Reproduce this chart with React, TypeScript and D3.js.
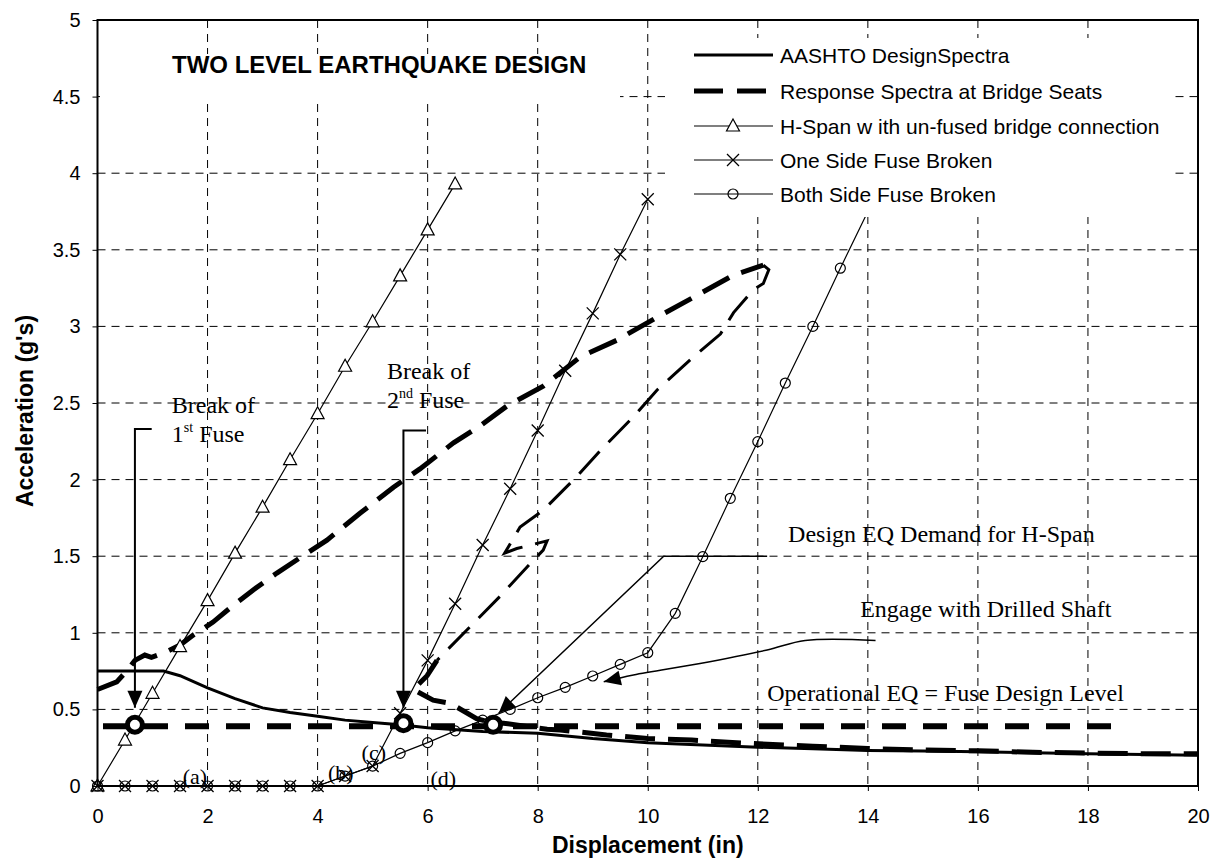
import React, { useEffect, useRef } from "react";
import * as d3 from "d3";

// axis ticks
const xTicks = [0, 2, 4, 6, 8, 10, 12, 14, 16, 18, 20];
const yTicks = [0, 0.5, 1, 1.5, 2, 2.5, 3, 3.5, 4, 4.5, 5];

// AASHTO design spectra
const aashtoX = [0, 1.2, 1.5, 2, 2.5, 3, 3.5, 4, 4.5, 5, 5.5, 6, 7, 8, 9, 10, 11, 12, 13, 14, 15, 16, 17, 18, 19, 20];
const aashtoY = [0.75, 0.75, 0.72, 0.64, 0.57, 0.51, 0.48, 0.455, 0.43, 0.415, 0.4, 0.38, 0.355, 0.345, 0.31, 0.283, 0.268, 0.253, 0.243, 0.232, 0.228, 0.224, 0.217, 0.21, 0.205, 0.2];

// response spectra at bridge seats (loops back on itself)
const respX = [0, 0.35, 0.53, 0.68, 0.86, 0.98, 1.26, 1.5, 1.74, 2.1, 2.47, 2.83, 3.26, 3.68, 4.17, 4.77, 5.38, 5.86, 6.47, 6.95, 7.44, 8.1, 8.77, 9.44, 10.17, 10.83, 11.56, 12.1, 12.2, 12.1, 11.92, 11.56, 11.32, 10.83, 10.17, 9.74, 9.14, 8.71, 8.1, 7.68, 7.4, 7.62, 8.17, 8.1, 7.86, 7.32, 6.17, 5.99, 5.74, 6.1, 6.41, 6.89, 7.2, 7.38, 8.17, 8.41, 9.25, 10, 10.8, 11.75, 13, 14, 15, 16, 17, 18, 19, 20];
const respY = [0.63, 0.68, 0.75, 0.82, 0.855, 0.84, 0.877, 0.92, 0.985, 1.07, 1.18, 1.28, 1.39, 1.49, 1.605, 1.78, 1.95, 2.07, 2.24, 2.35, 2.48, 2.61, 2.8, 2.91, 3.06, 3.19, 3.335, 3.4, 3.37, 3.28, 3.24, 3.09, 2.95, 2.8, 2.585, 2.41, 2.19, 2.02, 1.8, 1.69, 1.52, 1.55, 1.6, 1.54, 1.45, 1.24, 0.82, 0.72, 0.63, 0.56, 0.54, 0.44, 0.41, 0.41, 0.37, 0.366, 0.333, 0.31, 0.3, 0.28, 0.26, 0.245, 0.235, 0.23, 0.22, 0.215, 0.21, 0.21];
const respTip = 27; // index where the loop turns back
const respTurn = 46; // index where the thin return branch ends

// operational EQ = fuse design level
const opX = [0.1, 18.7];
const opY = [0.39, 0.39];

// H-Span with un-fused bridge connection
const hspanX = [0, 0.5, 1, 1.5, 2, 2.5, 3, 3.5, 4, 4.5, 5, 5.5, 6, 6.5];
const hspanY = [0, 0.3, 0.605, 0.91, 1.21, 1.52, 1.82, 2.13, 2.43, 2.74, 3.03, 3.33, 3.63, 3.93];

// One side fuse broken
const oneX = [0, 0.5, 1, 1.5, 2, 2.5, 3, 3.5, 4, 4.5, 5, 5.5, 6, 6.5, 7, 7.5, 8, 8.5, 9, 9.5, 10];
const oneY = [0, 0, 0, 0, 0, 0, 0, 0, 0, 0.065, 0.13, 0.475, 0.82, 1.19, 1.573, 1.94, 2.32, 2.71, 3.085, 3.47, 3.83];

// Both side fuse broken
const bothX = [0, 0.5, 1, 1.5, 2, 2.5, 3, 3.5, 4, 4.5, 5, 5.5, 6, 6.5, 7, 7.5, 8, 8.5, 9, 9.5, 10, 10.5, 11, 11.5, 12, 12.5, 13, 13.5, 14];
const bothY = [0, 0, 0, 0, 0, 0, 0, 0, 0, 0.065, 0.13, 0.213, 0.283, 0.36, 0.43, 0.5, 0.576, 0.644, 0.718, 0.794, 0.87, 1.127, 1.497, 1.878, 2.248, 2.63, 3.0, 3.38, 3.75];

// fuse break points (big circles)
const fuseX = [0.68, 5.56, 7.19];
const fuseY = [0.4, 0.41, 0.4];

// (a)-(d) labels
const stageText = ["(a)", "(b)", "(c)", "(d)"];
const stageX = [1.55, 4.19, 4.8, 6.05];
const stageY = [0.01, 0.04, 0.17, 0.0];

const legendNames = [
  "AASHTO DesignSpectra",
  "Response Spectra at Bridge Seats",
  "H-Span w ith un-fused bridge connection",
  "One Side Fuse Broken",
  "Both Side Fuse Broken",
];

export default function App() {
  const ref = useRef<SVGSVGElement>(null);

  useEffect(() => {
    const svg = d3.select(ref.current);
    svg.selectAll("*").remove();
    const W = 1217;
    const H = 860;
    const sans = "'Liberation Sans', Arial, sans-serif";
    const serif = "'Liberation Serif', 'Times New Roman', serif";

    const x = d3.scaleLinear().domain([0, 20]).range([97.5, 1198]);
    const y = d3.scaleLinear().domain([0, 5]).range([786, 20]);
    const zip = (a: number[], b: number[]) => a.map((v, i) => [v, b[i]] as [number, number]);
    const line = d3
      .line<[number, number]>()
      .x((d) => x(d[0]))
      .y((d) => y(d[1]));

    svg.append("rect").attr("width", W).attr("height", H).attr("fill", "#fff");

    // grid lines
    const grid = svg
      .append("g")
      .attr("stroke", "#000")
      .attr("stroke-width", 1)
      .attr("stroke-dasharray", "8,6");
    grid
      .append("g")
      .selectAll("line")
      .data(xTicks.slice(1, -1))
      .join("line")
      .attr("x1", (d) => x(d))
      .attr("x2", (d) => x(d))
      .attr("y1", y(5))
      .attr("y2", y(0));
    grid
      .append("g")
      .selectAll("line")
      .data(yTicks.slice(1, -1))
      .join("line")
      .attr("x1", x(0))
      .attr("x2", x(20))
      .attr("y1", (d) => y(d))
      .attr("y2", (d) => y(d));

    // operational level line
    svg
      .append("path")
      .attr("d", line(zip(opX, opY)))
      .attr("fill", "none")
      .attr("stroke", "#000")
      .attr("stroke-width", 6)
      .attr("stroke-dasharray", "24,17");

    // AASHTO
    svg
      .append("path")
      .attr("d", line(zip(aashtoX, aashtoY)))
      .attr("fill", "none")
      .attr("stroke", "#000")
      .attr("stroke-width", 3);

    // response spectra, thick outbound, thinner return branch
    const resp = zip(respX, respY);
    const respParts: [[number, number][], number][] = [
      [resp.slice(0, respTip + 1), 5],
      [resp.slice(respTip, respTurn + 1), 3],
      [resp.slice(respTurn), 5],
    ];
    respParts.forEach(([pts, w]) => {
      svg
        .append("path")
        .attr("d", line(pts))
        .attr("fill", "none")
        .attr("stroke", "#000")
        .attr("stroke-width", w)
        .attr("stroke-dasharray", "30,13");
    });

    // thin series lines
    [zip(hspanX, hspanY), zip(oneX, oneY), zip(bothX, bothY)].forEach((pts) => {
      svg
        .append("path")
        .attr("d", line(pts))
        .attr("fill", "none")
        .attr("stroke", "#000")
        .attr("stroke-width", 1.2);
    });

    const tri = "M0,-7L6.5,5L-6.5,5Z";
    const cross = "M-6,-6L6,6M-6,6L6,-6";

    svg
      .append("g")
      .selectAll("path")
      .data(zip(hspanX, hspanY))
      .join("path")
      .attr("transform", (d) => `translate(${x(d[0])},${y(d[1])})`)
      .attr("d", tri)
      .attr("fill", "#fff")
      .attr("stroke", "#000")
      .attr("stroke-width", 1.2);

    svg
      .append("g")
      .selectAll("path")
      .data(zip(oneX, oneY))
      .join("path")
      .attr("transform", (d) => `translate(${x(d[0])},${y(d[1])})`)
      .attr("d", cross)
      .attr("fill", "none")
      .attr("stroke", "#000")
      .attr("stroke-width", 1.3);

    svg
      .append("g")
      .selectAll("circle")
      .data(zip(bothX, bothY))
      .join("circle")
      .attr("cx", (d) => x(d[0]))
      .attr("cy", (d) => y(d[1]))
      .attr("r", 5)
      .attr("fill", "none")
      .attr("stroke", "#000")
      .attr("stroke-width", 1.2);

    // fuse break circles
    svg
      .append("g")
      .selectAll("circle")
      .data(zip(fuseX, fuseY))
      .join("circle")
      .attr("cx", (d) => x(d[0]))
      .attr("cy", (d) => y(d[1]))
      .attr("r", 7.5)
      .attr("fill", "#fff")
      .attr("stroke", "#000")
      .attr("stroke-width", 5);

    // annotations
    const ann = svg.append("g");
    const arrow = (
      pts: [number, number][],
      w: number,
      curve: d3.CurveFactory = d3.curveLinear
    ) => {
      const p = pts.map((d) => [x(d[0]), y(d[1])] as [number, number]);
      ann
        .append("path")
        .attr("d", d3.line().curve(curve)(p))
        .attr("fill", "none")
        .attr("stroke", "#000")
        .attr("stroke-width", w);
      const [tx, ty] = p[p.length - 1];
      const [fx, fy] = p[p.length - 2];
      const a = Math.atan2(ty - fy, tx - fx);
      const len = 17;
      const half = 7.5;
      const bx = tx - len * Math.cos(a);
      const by = ty - len * Math.sin(a);
      const px = -Math.sin(a) * half;
      const py = Math.cos(a) * half;
      ann
        .append("path")
        .attr("d", `M${tx},${ty}L${bx + px},${by + py}L${bx - px},${by - py}Z`)
        .attr("fill", "#000");
    };
    arrow([[0.985, 2.33], [0.68, 2.33], [0.68, 0.51]], 2);
    arrow([[5.97, 2.32], [5.56, 2.32], [5.56, 0.51]], 2);
    arrow([[12.17, 1.5], [10.29, 1.5], [7.29, 0.475]], 1.5);
    arrow(
      [[14.14, 0.95], [12.86, 0.95], [12.17, 0.888], [10.95, 0.8], [9.74, 0.725], [9.2, 0.68]],
      1.5,
      d3.curveCatmullRom
    );

    const txt = (tx: number, ty: number, size: number) =>
      ann
        .append("text")
        .attr("x", x(tx))
        .attr("y", y(ty))
        .attr("font-family", serif)
        .attr("font-size", size)
        .attr("fill", "#000");

    txt(1.35, 2.435, 24).text("Break of");
    const f1 = txt(1.35, 2.245, 24);
    f1.append("tspan").text("1");
    f1.append("tspan").attr("font-size", 14).attr("dy", -10).text("st");
    f1.append("tspan").attr("dy", 10).text(" Fuse");
    txt(5.26, 2.657, 24).text("Break of");
    const f2 = txt(5.26, 2.467, 24);
    f2.append("tspan").text("2");
    f2.append("tspan").attr("font-size", 14).attr("dy", -10).text("nd");
    f2.append("tspan").attr("dy", 10).text(" Fuse");
    txt(12.55, 1.593, 24).text("Design EQ Demand for H-Span");
    txt(13.86, 1.103, 24).text("Engage with Drilled Shaft");
    txt(12.17, 0.555, 24).text("Operational EQ = Fuse Design Level");
    stageText.forEach((s, i) => txt(stageX[i], stageY[i], 22).text(s));

    // title
    svg.append("rect").attr("x", 100).attr("y", 54).attr("width", 520).attr("height", 46).attr("fill", "#fff");
    svg
      .append("text")
      .attr("x", 172)
      .attr("y", 73)
      .attr("font-family", sans)
      .attr("font-weight", "bold")
      .attr("font-size", 24)
      .text("TWO LEVEL EARTHQUAKE DESIGN");

    // legend
    const lg = svg.append("g");
    lg.append("rect").attr("x", 665).attr("y", 38).attr("width", 507).attr("height", 179).attr("fill", "#fff");
    const rows = [55, 91, 126, 160, 194];
    const lx0 = 694;
    const lx1 = 773;
    const lmid = 733;
    rows.forEach((ry, i) => {
      const l = lg
        .append("line")
        .attr("x1", lx0)
        .attr("x2", lx1)
        .attr("y1", ry)
        .attr("y2", ry)
        .attr("stroke", "#000");
      if (i === 0) l.attr("stroke-width", 3);
      else if (i === 1) l.attr("stroke-width", 5).attr("stroke-dasharray", "29,14");
      else l.attr("stroke-width", 1.2);
      lg.append("text")
        .attr("x", 780)
        .attr("y", ry + 7.5)
        .attr("font-family", sans)
        .attr("font-size", 21)
        .text(legendNames[i]);
    });
    lg.append("path")
      .attr("transform", `translate(${lmid},${rows[2]})`)
      .attr("d", tri)
      .attr("fill", "#fff")
      .attr("stroke", "#000")
      .attr("stroke-width", 1.2);
    lg.append("path")
      .attr("transform", `translate(${lmid},${rows[3]})`)
      .attr("d", cross)
      .attr("stroke", "#000")
      .attr("stroke-width", 1.3);
    lg.append("circle")
      .attr("cx", lmid)
      .attr("cy", rows[4])
      .attr("r", 5)
      .attr("fill", "none")
      .attr("stroke", "#000")
      .attr("stroke-width", 1.2);

    // plot border
    svg
      .append("rect")
      .attr("x", x(0))
      .attr("y", y(5))
      .attr("width", x(20) - x(0))
      .attr("height", y(0) - y(5))
      .attr("fill", "none")
      .attr("stroke", "#000")
      .attr("stroke-width", 2);

    // axes
    const ax = svg
      .append("g")
      .attr("transform", `translate(0,${y(0)})`)
      .call(d3.axisBottom(x).tickValues(xTicks).tickSize(5).tickPadding(18).tickFormat((d) => String(d)));
    const ay = svg
      .append("g")
      .attr("transform", `translate(${x(0)},0)`)
      .call(d3.axisLeft(y).tickValues(yTicks).tickSize(5).tickPadding(12).tickFormat((d) => String(d)));
    [ax, ay].forEach((g) => {
      g.select(".domain").remove();
      g.attr("font-family", sans).attr("font-size", 20);
      g.selectAll("text").attr("fill", "#000");
      g.selectAll("line").attr("stroke", "#000");
    });

    svg
      .append("text")
      .attr("x", (x(0) + x(20)) / 2)
      .attr("y", 853)
      .attr("text-anchor", "middle")
      .attr("font-family", sans)
      .attr("font-weight", "bold")
      .attr("font-size", 23)
      .text("Displacement (in)");
    svg
      .append("text")
      .attr("transform", `translate(33,${(y(0) + y(5)) / 2 + 8}) rotate(-90)`)
      .attr("text-anchor", "middle")
      .attr("font-family", sans)
      .attr("font-weight", "bold")
      .attr("font-size", 23)
      .text("Acceleration (g's)");
  }, []);

  return (
    <svg
      ref={ref}
      width={1217}
      height={860}
      style={{ position: "absolute", left: 0, top: 0 }}
    ></svg>
  );
}
